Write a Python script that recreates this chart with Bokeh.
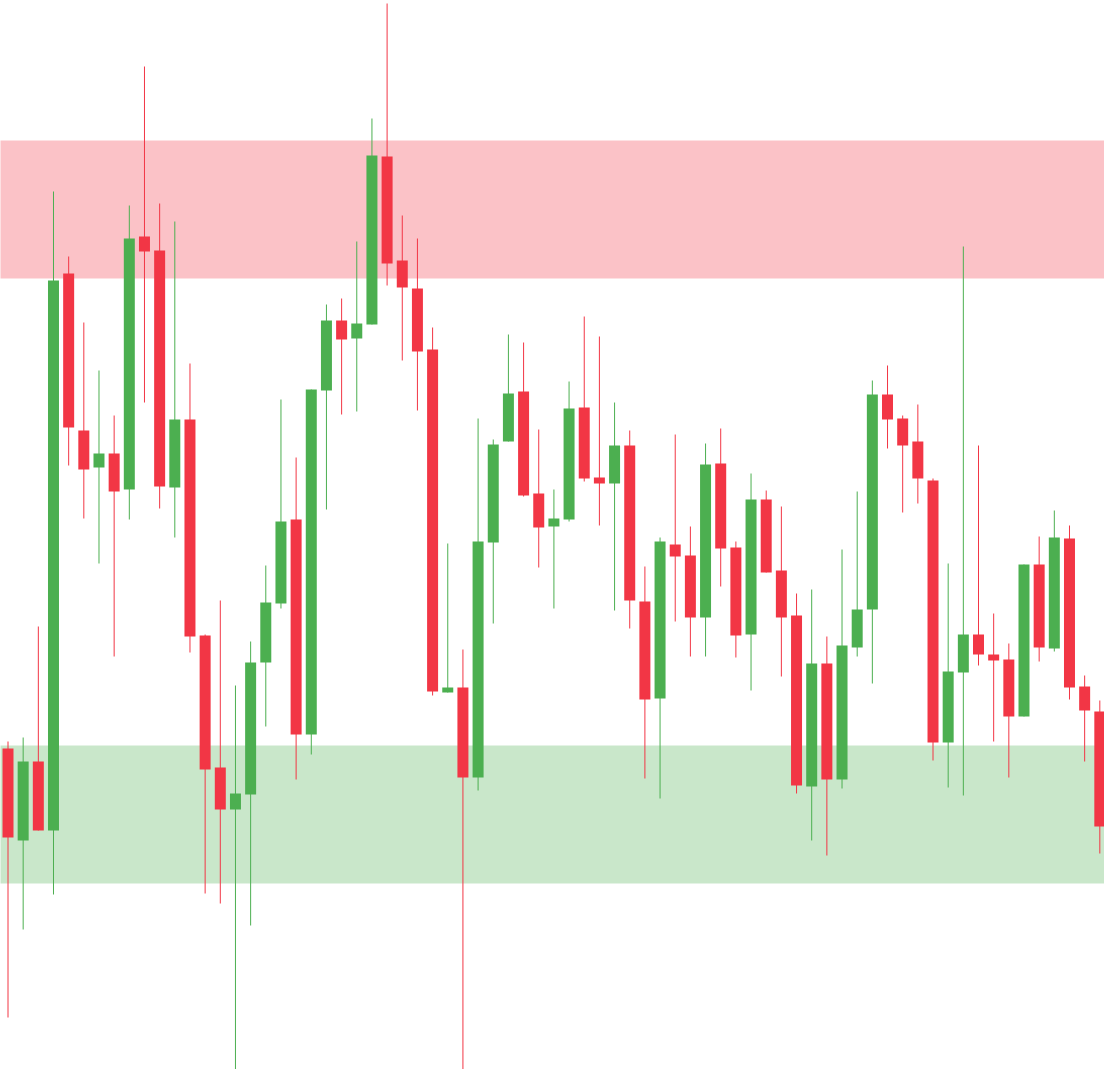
from bokeh.plotting import figure
from bokeh.models import ColumnDataSource, Range1d, BoxAnnotation
from bokeh.embed import file_html
from bokeh.resources import INLINE

# Candle data (price units)
open_ = [1.321, 1.229, 1.308, 1.239, 1.796, 1.639, 1.602, 1.616, 1.580, 1.833,
         1.819, 1.582, 1.650, 1.434, 1.302, 1.260, 1.275, 1.407, 1.466, 1.550,
         1.335, 1.679, 1.749, 1.731, 1.745, 1.913, 1.809, 1.781, 1.720, 1.377,
         1.382, 1.292, 1.527, 1.628, 1.678, 1.576, 1.543, 1.550, 1.662, 1.592,
         1.586, 1.624, 1.468, 1.371, 1.525, 1.514, 1.452, 1.606, 1.522, 1.435,
         1.570, 1.499, 1.454, 1.283, 1.406, 1.290, 1.422, 1.460, 1.675, 1.651,
         1.628, 1.589, 1.327, 1.397, 1.435, 1.415, 1.410, 1.353, 1.505, 1.421,
         1.531, 1.383, 1.358]
close = [1.232, 1.308, 1.239, 1.789, 1.642, 1.600, 1.616, 1.578, 1.831, 1.818,
         1.583, 1.650, 1.433, 1.300, 1.260, 1.276, 1.407, 1.467, 1.548, 1.335,
         1.680, 1.749, 1.730, 1.746, 1.914, 1.806, 1.782, 1.718, 1.378, 1.382,
         1.292, 1.528, 1.625, 1.676, 1.574, 1.542, 1.551, 1.661, 1.591, 1.586,
         1.624, 1.469, 1.370, 1.528, 1.513, 1.452, 1.605, 1.521, 1.434, 1.570,
         1.497, 1.452, 1.284, 1.406, 1.290, 1.424, 1.460, 1.675, 1.650, 1.624,
         1.591, 1.327, 1.398, 1.435, 1.415, 1.409, 1.353, 1.505, 1.422, 1.532,
         1.382, 1.359, 1.243]
high = [1.328, 1.332, 1.443, 1.878, 1.813, 1.747, 1.699, 1.654, 1.864, 2.003,
        1.866, 1.848, 1.706, 1.435, 1.469, 1.384, 1.428, 1.504, 1.670, 1.612,
        1.680, 1.765, 1.771, 1.828, 1.951, 2.066, 1.854, 1.831, 1.742, 1.526,
        1.420, 1.651, 1.630, 1.735, 1.727, 1.640, 1.580, 1.688, 1.753, 1.733,
        1.667, 1.639, 1.503, 1.532, 1.635, 1.543, 1.626, 1.641, 1.528, 1.596,
        1.579, 1.563, 1.476, 1.480, 1.433, 1.520, 1.578, 1.689, 1.704, 1.654,
        1.665, 1.591, 1.506, 1.823, 1.624, 1.456, 1.426, 1.505, 1.533, 1.559,
        1.544, 1.394, 1.369]
low = [1.052, 1.140, 1.239, 1.175, 1.604, 1.551, 1.506, 1.413, 1.550, 1.667,
       1.561, 1.532, 1.417, 1.176, 1.166, 0.995, 1.144, 1.343, 1.461, 1.290,
       1.315, 1.560, 1.655, 1.658, 1.745, 1.784, 1.709, 1.659, 1.374, 1.377,
       0.995, 1.279, 1.446, 1.628, 1.573, 1.502, 1.461, 1.548, 1.588, 1.544,
       1.459, 1.441, 1.291, 1.271, 1.448, 1.413, 1.413, 1.483, 1.412, 1.379,
       1.497, 1.393, 1.276, 1.229, 1.214, 1.281, 1.413, 1.386, 1.621, 1.557,
       1.566, 1.309, 1.282, 1.274, 1.404, 1.328, 1.292, 1.353, 1.408, 1.418,
       1.370, 1.308, 1.216]

# Zones
supply_zone = (1.791, 1.929)
demand_zone = (1.186, 1.324)

UP = "#4CAF50"
DOWN = "#F23645"

idx = list(range(len(open_)))
colors = [UP if c >= o else DOWN for o, c in zip(open_, close)]
src = ColumnDataSource(dict(
    x=idx, open=open_, close=close, high=high, low=low,
    top=[max(o, c) for o, c in zip(open_, close)],
    bottom=[min(o, c) for o, c in zip(open_, close)],
    color=colors,
))

p = figure(width=1104, height=1069, output_backend="svg", toolbar_location=None,
           x_axis_location=None, y_axis_location=None, min_border=0,
           x_range=Range1d(-0.4946, 72.309), y_range=Range1d(1.000, 2.069))
p.outline_line_color = None
p.grid.visible = False
p.background_fill_color = "white"
p.border_fill_color = "white"

p.add_layout(BoxAnnotation(left=-2, right=75,
                           bottom=supply_zone[0], top=supply_zone[1],
                           fill_color=DOWN, fill_alpha=0.3, line_color=None,
                           level="underlay"))
p.add_layout(BoxAnnotation(left=-2, right=75,
                           bottom=demand_zone[0], top=demand_zone[1],
                           fill_color=UP, fill_alpha=0.3, line_color=None,
                           level="underlay"))

p.segment(x0="x", y0="low", x1="x", y1="high", color="color", line_width=1, source=src)
p.vbar(x="x", width=0.725, top="top", bottom="bottom", fill_color="color",
       line_color=None, source=src)

open("out.html", "w").write(file_html(p, INLINE))
